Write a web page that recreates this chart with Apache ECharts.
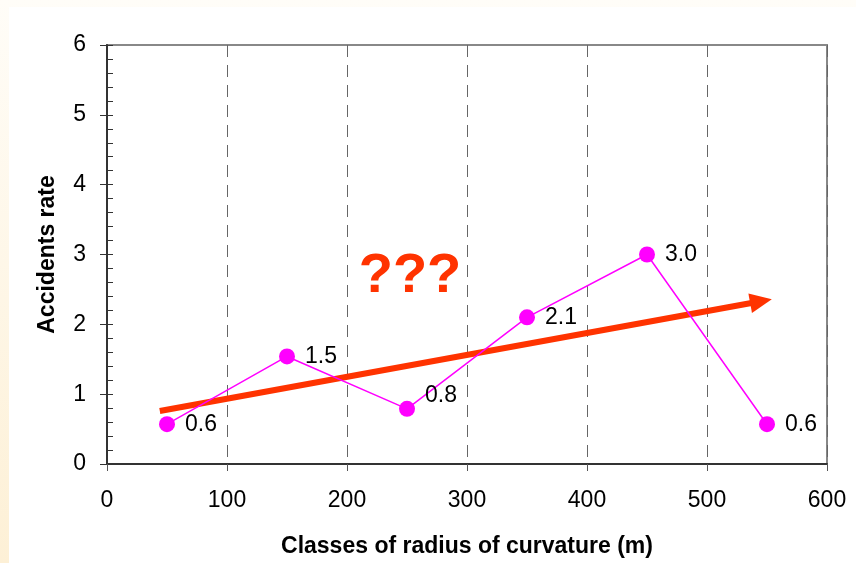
<!DOCTYPE html>
<html>
<head>
<meta charset="utf-8">
<script src="https://cdn.jsdelivr.net/npm/echarts@6/dist/echarts.min.js"></script>
<style>
  html, body { margin: 0; padding: 0; }
  body { background: linear-gradient(to bottom, #fffdf8, #fdf0d6); }
  #main { width: 856px; height: 563px; }
</style>
</head>
<body>
<div id="main"></div>
<script>
// radius classes (m) and accident rates
var radiusClasses = [50, 150, 250, 350, 450, 550];
var accidentRates = [0.57, 1.54, 0.79, 2.1, 3.0, 0.57];
// the hand-drawn trend arrow: start and end in data units
var trendStart = [44, 0.76];
var trendEnd = [545, 2.33];
var yTicks = [0, 1, 2, 3, 4, 5, 6];
var xTicks = [0, 100, 200, 300, 400, 500, 600];

var pink = '#ff00ff';
var red = '#ff3300';
var font = 'Liberation Sans, Arial, sans-serif';

var chart = echarts.init(document.getElementById('main'));

var points = radiusClasses.map(function(x, i){
    var item = { value: [x, accidentRates[i]] };
    if (i === 2) {
        item.label = { offset: [0, -13] };
    }
    return item;
});

var option = {
    backgroundColor: 'transparent',
    animation: false,
    textStyle: { fontFamily: font },
    graphic: [{
        type: 'rect',
        left: 9, top: 7,
        shape: { width: 847, height: 556 },
        style: { fill: '#fff' },
        z: -10
    }, {
        type: 'text',
        x: 410, y: 277,
        style: {
            text: '???',
            fill: red,
            font: 'bold 56px ' + font,
            textAlign: 'center',
            textVerticalAlign: 'middle'
        },
        z: 20
    }],
    grid: {
        left: 107, right: 29, top: 45, bottom: 99,
        outerBoundsMode: 'none',
        containLabel: false,
        show: true,
        borderColor: '#888',
        borderWidth: 2,
        backgroundColor: 'transparent'
    },
    xAxis: {
        type: 'value',
        min: 0, max: 600, interval: 100,
        name: 'Classes of radius of curvature (m)',
        nameLocation: 'middle',
        nameGap: 71,
        nameTextStyle: { fontSize: 23, fontWeight: 'bold', color: '#000' },
        axisLine: { lineStyle: { color: '#333', width: 2 } },
        axisTick: { show: true, length: 7, lineStyle: { color: '#555', width: 1 } },
        axisLabel: {
            fontSize: 23, color: '#000', margin: 25,
            formatter: function(v){ return xTicks.indexOf(v) >= 0 ? String(v) : ''; }
        },
        splitLine: { show: true, lineStyle: { color: '#666', type: [12, 8], width: 1 } }
    },
    yAxis: [{
        type: 'value',
        min: 0, max: 6, interval: 1,
        name: 'Accidents rate',
        nameLocation: 'middle',
        nameGap: 48,
        nameTextStyle: { fontSize: 23, fontWeight: 'bold', color: '#000' },
        axisLine: { show: true, lineStyle: { color: '#333', width: 2 } },
        axisTick: { show: true, length: 7, lineStyle: { color: '#333' } },
        axisLabel: {
            fontSize: 23, color: '#000', margin: 21,
            formatter: function(v){ return yTicks.indexOf(v) >= 0 ? String(v) : ''; }
        },
        splitLine: { show: false }
    }, {
        // second copy of the left axis, only for the inner ticks
        type: 'value',
        position: 'left',
        min: 0, max: 6, interval: 1,
        axisLine: { show: false },
        axisTick: { show: true, inside: true, length: 6, lineStyle: { color: '#333' } },
        minorTick: { show: true, splitNumber: 5, length: 6, lineStyle: { color: '#333' } },
        axisLabel: { show: false },
        splitLine: { show: false }
    }],
    series: [{
        name: 'Accidents rate',
        type: 'line',
        data: points,
        symbol: 'circle',
        symbolSize: 16,
        itemStyle: { color: pink },
        lineStyle: { color: pink, width: 1.5 },
        label: {
            show: true,
            position: 'right',
            distance: 10,
            fontSize: 23,
            color: '#000',
            formatter: function(p){ return p.value[1].toFixed(1); }
        },
        z: 5
    }, {
        name: 'trend',
        type: 'line',
        data: [],
        markLine: {
            silent: true,
            symbol: ['none', 'triangle'],
            symbolSize: [20, 22],
            label: { show: false },
            lineStyle: { color: red, width: 6, type: 'solid' },
            data: [[{ coord: trendStart }, { coord: trendEnd }]]
        },
        z: 10
    }]
};

chart.setOption(option);
</script>
</body>
</html>
